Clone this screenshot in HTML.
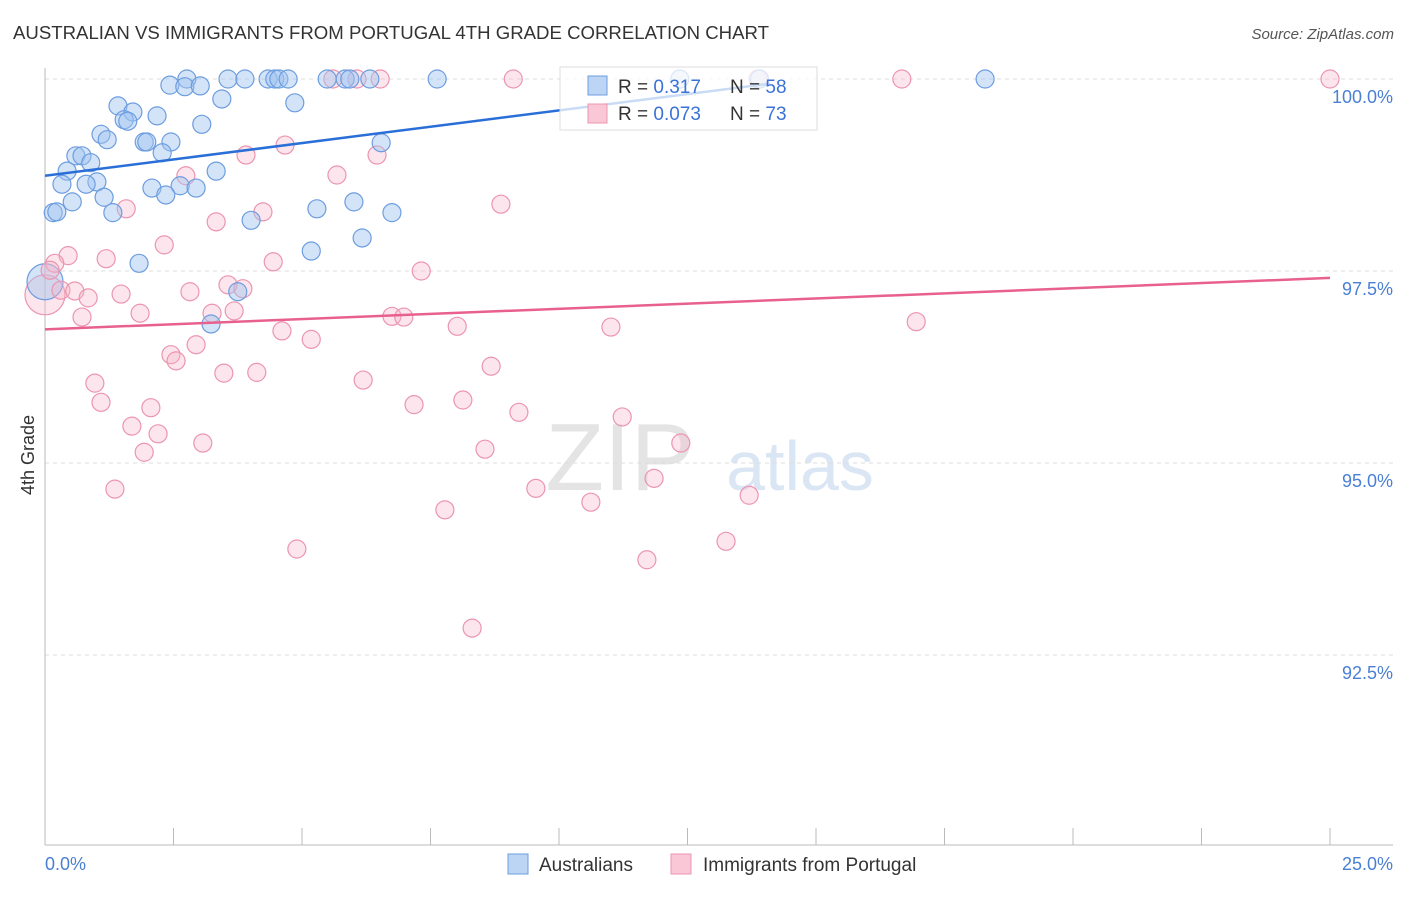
<!DOCTYPE html>
<html><head><meta charset="utf-8"><style>
body{margin:0;background:#fff;font-family:"Liberation Sans",sans-serif;}
svg text{font-family:"Liberation Sans",sans-serif;}
</style></head><body>
<svg id="chart" width="1406" height="892">
<text x="13" y="39" font-size="18" fill="#333" textLength="756" lengthAdjust="spacingAndGlyphs">AUSTRALIAN VS IMMIGRANTS FROM PORTUGAL 4TH GRADE CORRELATION CHART</text>
<text x="1394" y="39" font-size="15" fill="#555" font-style="italic" text-anchor="end">Source: ZipAtlas.com</text>
<text x="620" y="490" font-size="96" fill="#e4e4e4" font-family="Liberation Serif" text-anchor="middle">ZIP</text>
<text x="800" y="490" font-size="70" fill="#dbe6f4" text-anchor="middle">atlas</text>
<g id="grid"></g><g id="pts"></g><g id="lines"></g>
<g>
<rect x="560" y="67" width="257" height="63" fill="#fff" fill-opacity="0.75" stroke="#ddd"/>
<rect x="588" y="76" width="19" height="19" fill="#bcd5f5" stroke="#6d9de0"/>
<rect x="588" y="104" width="19" height="19" fill="#f9c7d6" stroke="#ec95b0"/>
<text x="618" y="93" font-size="19" fill="#333">R = <tspan fill="#3a72d8">0.317</tspan></text>
<text x="730" y="93" font-size="19" fill="#333">N = <tspan fill="#3a72d8">58</tspan></text>
<text x="618" y="120" font-size="19" fill="#333">R = <tspan fill="#3a72d8">0.073</tspan></text>
<text x="730" y="120" font-size="19" fill="#333">N = <tspan fill="#3a72d8">73</tspan></text>
</g>
<text x="34" y="455" font-size="18" fill="#333" transform="rotate(-90 34 455)" text-anchor="middle">4th Grade</text>
<text x="45" y="870" font-size="18" fill="#4a7fd4">0.0%</text>
<text x="1393" y="870" font-size="18" fill="#4a7fd4" text-anchor="end">25.0%</text>
<g>
<rect x="508" y="854" width="20" height="20" fill="#bcd5f5" stroke="#6d9de0"/>
<text x="539" y="871" font-size="19" fill="#333">Australians</text>
<rect x="671" y="854" width="20" height="20" fill="#f9c7d6" stroke="#ec95b0"/>
<text x="703" y="871" font-size="19" fill="#333">Immigrants from Portugal</text>
</g>
</svg>
<script>
const yTicks=[100,97.5,95,92.5];
const yTickLabels=["100.0%","97.5%","95.0%","92.5%"];
const blueX=[2.76,3.56,3.89,4.34,4.47,4.55,4.73,5.49,5.84,5.93,6.32,7.63,18.29,2.43,2.72,3.02,3.44,4.86,1.42,1.71,2.18,1.54,1.61,3.05,1.09,1.21,1.93,2.45,1.98,6.54,2.28,0.60,0.72,0.89,0.43,3.33,0.33,1.01,0.80,2.08,2.63,2.94,2.35,1.15,0.53,6.01,5.29,1.32,0.16,0.23,6.75,4.01,6.17,5.18,1.83,3.75,3.23,12.35,13.9];
const blueY=[100,100,100,100,100,100,100,100,100,100,100,100,100,99.92,99.9,99.91,99.74,99.69,99.65,99.57,99.52,99.47,99.45,99.41,99.28,99.21,99.18,99.18,99.18,99.17,99.04,99.0,99.0,98.91,98.8,98.8,98.63,98.66,98.63,98.58,98.61,98.58,98.49,98.46,98.4,98.4,98.31,98.26,98.26,98.27,98.26,98.16,97.93,97.76,97.6,97.23,96.81,100,100];
const pinkX=[5.60,6.07,6.52,9.11,13.87,16.67,25,3.91,4.67,6.46,5.68,2.74,8.87,1.58,4.24,3.33,2.32,0.45,1.19,4.44,7.32,0.19,3.56,3.85,0.31,0.58,0.84,1.48,2.82,1.85,3.25,3.68,0.72,6.75,6.98,8.02,11.01,16.95,4.61,5.18,2.94,2.45,2.55,8.68,3.48,4.12,6.19,0.97,1.09,2.06,7.18,8.13,9.22,11.23,1.69,2.2,3.07,8.56,12.37,1.93,1.36,9.55,11.85,13.7,10.62,7.78,13.25,4.9,11.71,8.31,0.1];
const pinkY=[100,100,100,100,100,100,100,99.01,99.14,99.01,98.75,98.74,98.37,98.31,98.27,98.14,97.84,97.7,97.66,97.62,97.5,97.6,97.32,97.27,97.25,97.24,97.15,97.2,97.23,96.95,96.95,96.98,96.9,96.91,96.9,96.78,96.77,96.84,96.72,96.61,96.54,96.41,96.33,96.26,96.17,96.18,96.08,96.04,95.79,95.72,95.76,95.82,95.66,95.6,95.48,95.38,95.26,95.18,95.26,95.14,94.66,94.67,94.8,94.58,94.49,94.39,93.98,93.88,93.74,92.85,97.51];
const bigBlue=[0,97.36];
const bigPink=[0,97.19];
const blueTrend=[[0,98.74],[14.1,99.94]];
const pinkTrend=[[0,96.74],[25,97.41]];
const xTicks=[0,2.5,5,7.5,10,12.5,15,17.5,20,22.5,25];
const NS="http://www.w3.org/2000/svg";
const X=v=>45+v*51.4, Y=v=>79+(100-v)*76.8;
function mk(t,a,p){const e=document.createElementNS(NS,t);for(const k in a)e.setAttribute(k,a[k]);p.appendChild(e);return e;}
const g=document.getElementById('grid');
yTicks.forEach((t,i)=>{
 const l=mk('line',{x1:45,x2:1393,y1:Y(t),y2:Y(t),stroke:'#ddd','stroke-dasharray':'4 4'},g);
 
 
 const tx=mk('text',{x:1393,y:Y(t)+24,'font-size':18,fill:'#4a7fd4','text-anchor':'end'},g);
 tx.textContent=yTickLabels[i];
 
 
});
const ax=mk('line',{x1:45,x2:45,y1:68,y2:845,stroke:'#bbb'},g);


const bx=mk('line',{x1:45,x2:1393,y1:845,y2:845,stroke:'#bbb'},g);


xTicks.forEach(t=>{const l=mk('line',{x1:X(t),x2:X(t),y1:828,y2:845,stroke:'#bbb'},g);
 
 });
const p=document.getElementById('pts');
function dot(x,y,r,blue){const c=mk('circle',{cx:X(x),cy:Y(y),r:r,fill:blue?'rgba(160,196,240,0.45)':'rgba(246,180,200,0.35)',stroke:blue?'#6d9de0':'#ec95b0','stroke-width':1.2},p);return c;}
let c=dot(bigPink[0],bigPink[1],20,false);


c=dot(bigBlue[0],bigBlue[1],18,true);


pinkX.forEach((x,i)=>{const d=dot(x,pinkY[i],9,false);
 
 });
blueX.forEach((x,i)=>{const d=dot(x,blueY[i],9,true);
 
 });
const L=document.getElementById('lines');
let t=mk('line',{x1:X(blueTrend[0][0]),y1:Y(blueTrend[0][1]),x2:X(blueTrend[1][0]),y2:Y(blueTrend[1][1]),stroke:'#2a6fd8','stroke-width':2.5},L);


t=mk('line',{x1:X(pinkTrend[0][0]),y1:Y(pinkTrend[0][1]),x2:X(pinkTrend[1][0]),y2:Y(pinkTrend[1][1]),stroke:'#e8608e','stroke-width':2.5},L);


</script>
</body></html>
